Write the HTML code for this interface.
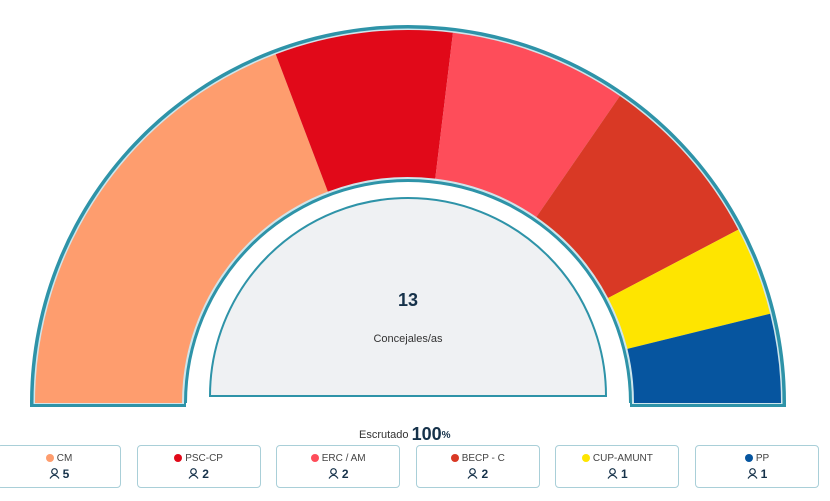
<!DOCTYPE html>
<html><head><meta charset="utf-8"><style>
body{margin:0;width:830px;height:501px;background:#fff;overflow:hidden;font-family:"Liberation Sans",sans-serif;position:relative}
.box{position:absolute;top:445px;width:124px;height:43px;border:1px solid #a9cfd8;border-radius:4px;box-sizing:border-box;text-align:center;color:#333}
.nm{font-size:10px;margin-top:7px;color:#444}
.dot{display:inline-block;width:8px;height:8px;border-radius:50%;margin-right:3px;vertical-align:-0.5px}
.st{font-size:12px;font-weight:bold;margin-top:3px;color:#16324a}
</style></head><body>
<svg id="chart" width="830" height="440" style="position:absolute;left:0;top:0"></svg>
<div style="position:absolute;left:359px;top:424px;font-size:11px;color:#333">Escrutado <b style="font-size:18px;color:#16324a;vertical-align:-2px">100</b><b style="font-size:10px;color:#16324a">%</b></div>
<div id="legend"></div>
<script>
const parties=["CM","PSC-CP","ERC / AM","BECP - C","CUP-AMUNT","PP"];
const seats=[5,2,2,2,1,1];
const colors=["#fe9d6e","#e10919","#fe4d5a","#d93925","#fee500","#06559f"];
const NS="http://www.w3.org/2000/svg";
const svg=document.getElementById('chart');
const cx=408,cy=403;
const total=seats.reduce((a,b)=>a+b,0);
function pt(r,a){return [cx-r*Math.cos(a),cy-r*Math.sin(a)];}
function arc(r1,r2,a1,a2){const p1=pt(r2,a1),p2=pt(r2,a2),p3=pt(r1,a2),p4=pt(r1,a1);
return `M${p1} A${r2},${r2} 0 0 1 ${p2} L${p3} A${r1},${r1} 0 0 0 ${p4}Z`;}
function add(tag,attrs,name){const e=document.createElementNS(NS,tag);for(const k in attrs)e.setAttribute(k,attrs[k]);svg.appendChild(e);return e;}
add('path',{d:arc(221,378,0,Math.PI)+`M30,400H186V407H30Z M630,400H786V407H630Z`,fill:'#2e93a8'},'ring-border');
add('path',{d:arc(224,374.5,0,Math.PI)+`M33.5,400H184V404H33.5Z M632,400H782.5V404H632Z`,fill:'#cfe6ec'},'ring-inner-line');
let acc=0;
seats.forEach((s,i)=>{const a1=acc/total*Math.PI,a2=(acc+s)/total*Math.PI;acc+=s;
add('path',{d:arc(226,373,a1,a2),fill:colors[i]},'segment-'+parties[i].toLowerCase().replace(/[^a-z]+/g,'-'));
});
add('path',{d:`M${cx-198},${396} A198,198 0 0 1 ${cx+198},396 Z`,fill:'#eff1f3',stroke:'#2e93a8','stroke-width':2},'center-panel');
const t1=add('text',{x:cx,y:306,'text-anchor':'middle','font-size':18,'font-weight':'bold',fill:'#16324a','font-family':'Liberation Sans'},'total-seats');t1.textContent=total;
const t2=add('text',{x:cx,y:342,'text-anchor':'middle','font-size':11,fill:'#333','font-family':'Liberation Sans'},'seats-label');t2.textContent='Concejales/as';
const lg=document.getElementById('legend');
parties.forEach((p,i)=>{const d=document.createElement('div');d.className='box';d.style.left=(-3+i*139.6)+'px';


d.innerHTML=`<div class="nm"><span class="dot" style="background:${colors[i]}"></span>${p}</div><div class="st"><svg width="11" height="11" viewBox="0 0 11 11" style="vertical-align:-1px;margin-right:3px"><circle cx="5.5" cy="3.5" r="2.8" fill="none" stroke="#16324a" stroke-width="1.2"/><path d="M1 10.5 Q5.5 4 10 10.5" fill="none" stroke="#16324a" stroke-width="1.2"/></svg>${seats[i]}</div>`;
lg.appendChild(d);});
</script>
</body></html>
